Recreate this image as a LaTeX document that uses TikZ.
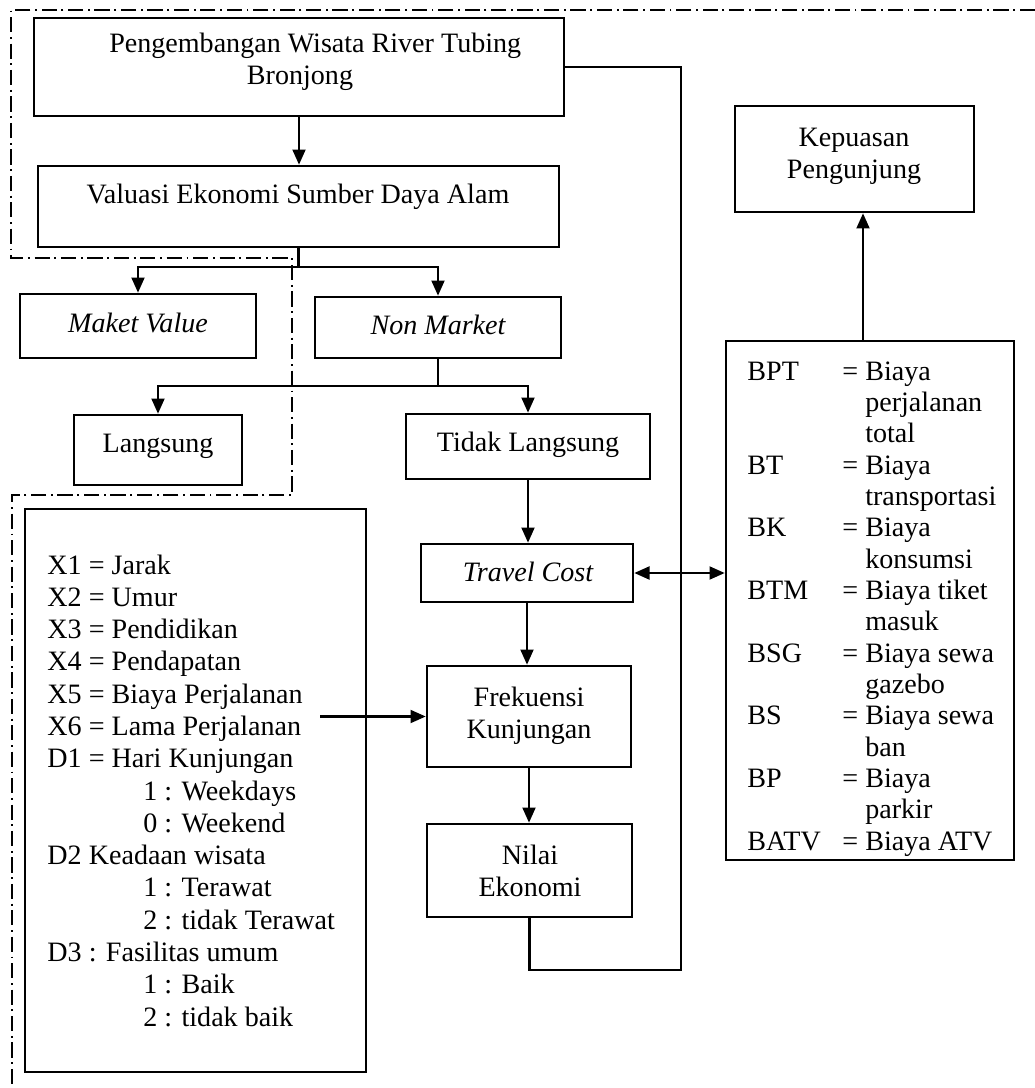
\documentclass[tikz,border=0pt]{standalone}
\usepackage{fontspec}
\setmainfont{Liberation Serif}
\usetikzlibrary{arrows.meta,fit}
\begin{document}
\begin{tikzpicture}[x=0.4274pt,y=-0.4274pt,
  box/.style={draw,line width=1.1pt,inner sep=0pt},
  txt/.style={font=\fontsize{12}{13.8}\selectfont,inner sep=0pt,align=center},
  itxt/.style={font=\fontsize{12}{13.8}\selectfont\itshape,inner sep=0pt,align=center},
  ln/.style={line width=1pt},
  arr/.style={ln,-{Triangle[length=6.5pt,width=5.5pt]}},
  dbl/.style={ln,{Triangle[length=6.5pt,width=5.5pt]}-{Triangle[length=6.5pt,width=5.5pt]}},
  dashdotline/.style={line width=0.7pt,dash pattern=on 6.5pt off 2pt on 0.8pt off 2pt}]
\useasboundingbox (0,0) rectangle (1035,1088);

% dash-dot boundary
\draw[dashdotline] (1035,10) -- (11,10) -- (11,258) -- (292,258) -- (292,495) -- (12,495) -- (12,1088);

% boxes
\node[box,fit={(34,18)(564,116)}] (peng) {};
\node[box,fit={(38,166)(559,247)}] (val) {};
\node[box,fit={(20,294)(256,358)}] (mv) {};
\node[box,fit={(315,297)(561,358)}] (nm) {};
\node[box,fit={(74,415)(242,485)}] (lang) {};
\node[box,fit={(406,414)(650,479)}] (tl) {};
\node[box,fit={(421,544)(633,602)}] (tc) {};
\node[box,fit={(427,666)(631,767)}] (frek) {};
\node[box,fit={(427,824)(632,917)}] (nilai) {};
\node[box,fit={(735,106)(974,212)}] (kep) {};
\node[box,fit={(726,341)(1014,860)}] (rb) {};
\node[box,fit={(25,509)(366,1072)}] (lb) {};

% texts
\node[txt] (pengT) at (300,62) {\hspace*{13pt}Pengembangan Wisata River Tubing\\Bronjong};
\node[txt] (valT) at (298,197) {Valuasi Ekonomi Sumber Daya Alam};
\node[itxt] (mvT) at (138,323) {Maket Value};
\node[itxt] (nmT) at (438,325) {Non Market};
\node[txt] (langT) at (158,446) {Langsung};
\node[txt] (tlT) at (528,445) {Tidak Langsung};
\node[itxt] (tcT) at (528,572) {Travel Cost};
\node[txt] (frekT) at (529,716) {Frekuensi\\Kunjungan};
\node[txt] (nilaiT) at (530,871) {Nilai\\Ekonomi};
\node[txt] (kepT) at (854,156) {Kepuasan\\Pengunjung};

\node[anchor=base west,inner sep=0pt,font=\fontsize{12}{13.8}\selectfont] (lbT) at (47,574) {%
\begin{tabular}[t]{@{}l@{}}
X1 = Jarak\\
X2 = Umur\\
X3 = Pendidikan\\
X4 = Pendapatan\\
X5 = Biaya Perjalanan\\
X6 = Lama Perjalanan\\
D1 = Hari Kunjungan\\
\hspace*{41pt}1 : Weekdays\\
\hspace*{41pt}0 : Weekend\\
D2 Keadaan wisata\\
\hspace*{41pt}1 : Terawat\\
\hspace*{41pt}2 : tidak Terawat\\
D3 : Fasilitas umum\\
\hspace*{41pt}1 : Baik\\
\hspace*{41pt}2 : tidak baik
\end{tabular}};

\node[anchor=base west,inner sep=0pt,font=\fontsize{12}{13.4}\selectfont] (rbT) at (747,380) {%
\begin{tabular}[t]{@{}p{40.6pt}@{}l@{}}
BPT & = Biaya\\
 & \phantom{=\ }perjalanan\\
 & \phantom{=\ }total\\
BT & = Biaya\\
 & \phantom{=\ }transportasi\\
BK & = Biaya\\
 & \phantom{=\ }konsumsi\\
BTM & = Biaya tiket\\
 & \phantom{=\ }masuk\\
BSG & = Biaya sewa\\
 & \phantom{=\ }gazebo\\
BS & = Biaya sewa\\
 & \phantom{=\ }ban\\
BP & = Biaya\\
 & \phantom{=\ }parkir\\
BATV & = Biaya ATV
\end{tabular}};

% connectors
\draw[arr] (peng.south) -- (peng.south |- val.north);
\coordinate (j1) at (val.south |- 0,267);
\draw[ln] (val.south) -- (j1);
\draw[arr] (j1) -| (mv.north);
\draw[arr] (j1) -| (nm.north);
\coordinate (j2) at (nm.south |- 0,386);
\draw[ln] (nm.south) -- (j2);
\draw[arr] (j2) -| (lang.north);
\draw[arr] (j2) -| (tl.north);
\draw[arr] (tl.south) -- (tl.south |- tc.north);
\draw[arr] (tc.south) -- (tc.south |- frek.north);
\draw[arr] (frek.south) -- (frek.south |- nilai.north);
\coordinate (c1) at (681,970);
\draw[ln] (nilai.south) |- (c1) |- (peng.east);
\draw[dbl] (tc.east) -- (tc.east -| rb.west);
\coordinate (rbtop) at (863,341);
\draw[arr] (rbtop) -- (rbtop |- kep.south);
\coordinate (x6) at (320,718);
\draw[arr] (x6 |- frek.west) -- (frek.west);
\end{tikzpicture}
\end{document}
